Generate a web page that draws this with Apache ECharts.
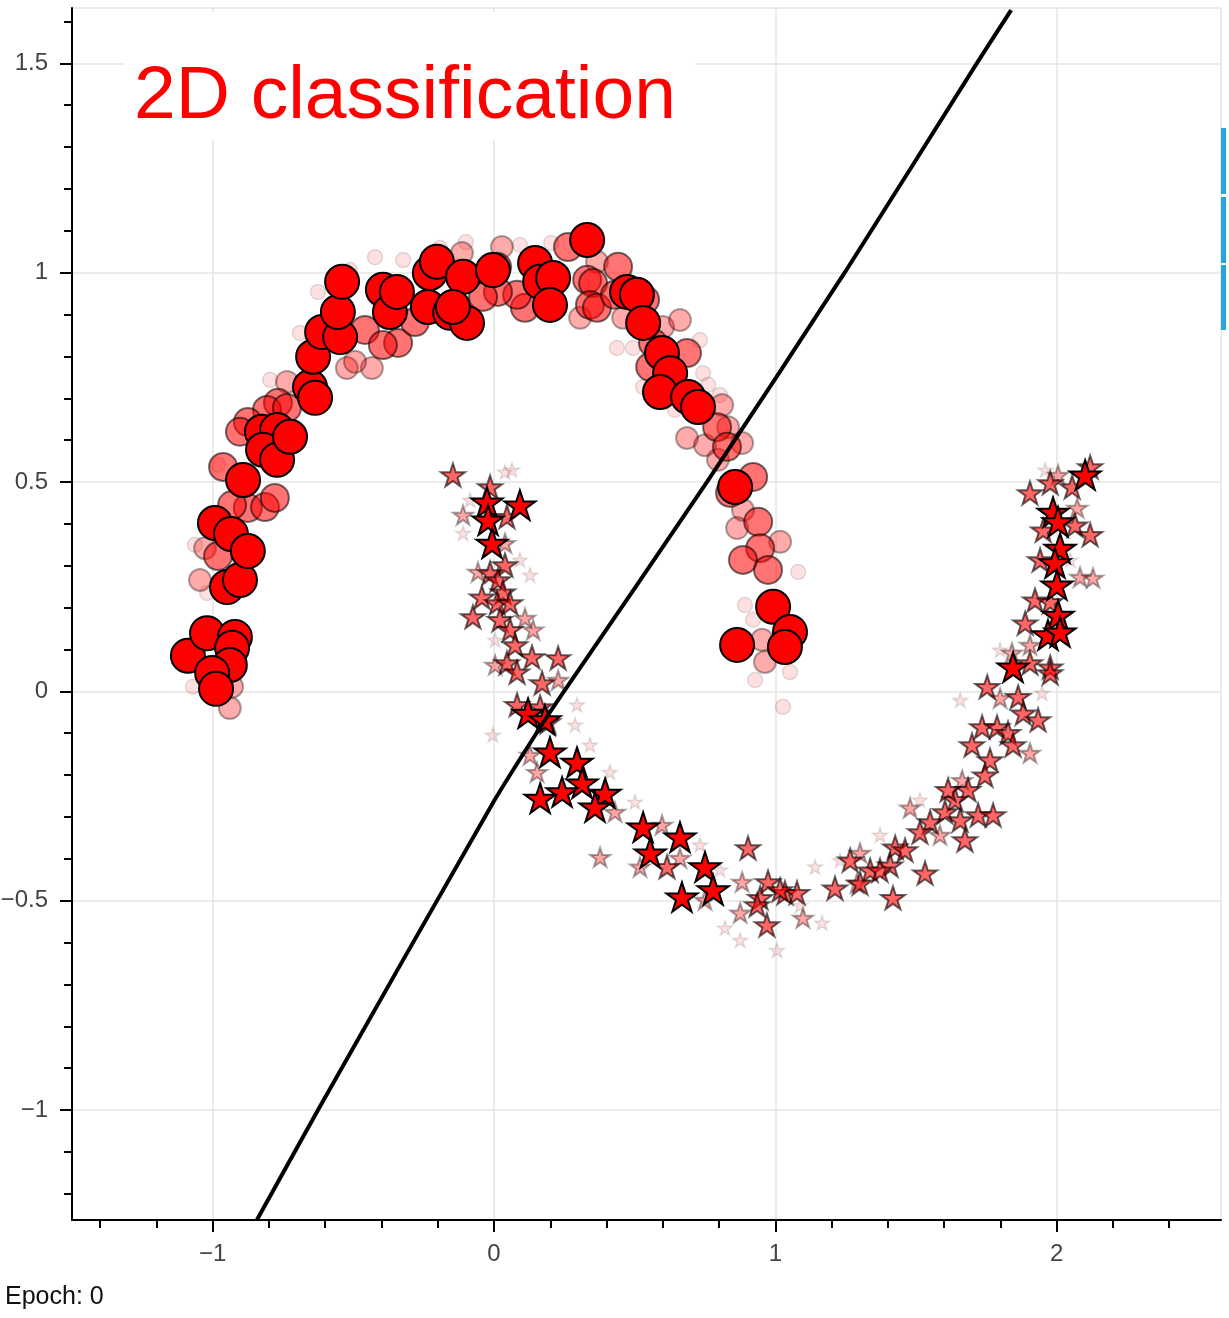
<!DOCTYPE html>
<html>
<head>
<meta charset="utf-8">
<script src="https://cdn.jsdelivr.net/npm/echarts@6/dist/echarts.min.js"></script>
<style>
  html, body { margin: 0; padding: 0; background: #fff; }
  #chart { width: 1229px; height: 1318px; }
</style>
</head>
<body>
<div id="chart"></div>
<script>
// ---------------- DATA ----------------
const titleText = '2D classification';
const epochText = 'Epoch: 0';

const xTicks = [-1, 0, 1, 2];
const yTicks = [-1, -0.5, 0, 0.5, 1, 1.5];
const xMinorTicks = [-1.4, -1.2, -0.8, -0.6, -0.4, -0.2, 0.2, 0.4, 0.6, 0.8, 1.2, 1.4, 1.6, 1.8, 2.2, 2.4];
const yMinorTicks = [-1.2, -1.1, -0.9, -0.8, -0.7, -0.6, -0.4, -0.3, -0.2, -0.1, 0.1, 0.2, 0.3, 0.4, 0.6, 0.7, 0.8, 0.9, 1.1, 1.2, 1.3, 1.4, 1.6];
const xRange = [-1.5, 2.584];
const yRange = [-1.2625, 1.632];

// class 0 (circles), grouped by confidence (opacity)
const circlesStrong = [
  [-1.088,0.085],[-1.020,0.139],[-0.921,0.130],[-0.931,0.104],[-0.939,0.063],[-1.002,0.044],[-0.988,0.006],
  [-0.949,0.249],[-0.903,0.266],[-0.992,0.402],[-0.935,0.376],[-0.875,0.335],[-0.892,0.505],[-0.825,0.620],
  [-0.771,0.624],[-0.821,0.577],[-0.771,0.553],[-0.725,0.608],[-0.654,0.727],[-0.636,0.701],[-0.643,0.799],
  [-0.611,0.858],[-0.547,0.846],[-0.555,0.906],[-0.540,0.978],[-0.395,0.959],[-0.370,0.906],[-0.345,0.954],
  [-0.228,0.999],[-0.203,1.026],[-0.235,0.918],[-0.156,0.904],[-0.110,0.990],[-0.096,0.880],[-0.146,0.918],
  [-0.004,1.006],[0.146,1.023],[0.164,0.978],[0.210,0.987],[0.199,0.923],[0.331,1.078],[0.473,0.954],
  [0.508,0.947],[0.530,0.880],[0.597,0.808],[0.626,0.760],[0.590,0.715],[0.690,0.703],[0.725,0.679],
  [0.857,0.488],[0.992,0.202],[1.052,0.142],[0.864,0.111],[1.034,0.106]
];
const circlesMedium = [
  [-0.341,0.832],[-0.459,0.863],[-0.281,0.882],[-0.395,0.827],[-0.768,0.689],[-0.807,0.672],[-0.736,0.677],
  [-0.875,0.643],[-0.903,0.620],[-0.963,0.536],[-0.875,0.438],[-0.814,0.440],[-0.779,0.462],[-0.931,0.445],
  [-0.981,0.323],[0.263,1.061],[0.110,0.916],[0.082,0.947],[0.014,0.954],[0.011,1.014],[-0.039,0.942],
  [0.441,1.014],[0.331,0.983],[0.352,0.975],[0.341,0.923],[0.366,0.916],[0.430,0.947],[0.537,0.935],
  [0.565,0.832],[0.555,0.775],[0.686,0.808],[0.793,0.631],[0.828,0.584],[0.921,0.512],[0.839,0.474],
  [0.939,0.405],[0.946,0.342],[0.885,0.314],[0.974,0.290]
];
const circlesLight = [
  [-0.434,0.772],[-0.523,0.772],[-0.494,0.787],[-0.736,0.739],[0.306,0.892],[0.459,0.892],[0.601,0.870],
  [0.661,0.887],[0.366,1.026],[0.028,1.061],[-0.114,1.047],[0.811,0.684],[0.832,0.631],[0.686,0.605],
  [0.750,0.588],[0.882,0.593],[0.796,0.553],[0.885,0.433],[0.864,0.390],[1.017,0.357],[0.953,0.123],
  [0.963,0.070],[-0.939,-0.040],[-0.931,0.011],[-1.027,0.342],[-1.045,0.266]
];
const circlesFaint = [
  [-0.423,1.037],[-0.323,1.030],[-0.626,0.954],[-0.690,0.856],[0.437,0.820],[0.494,0.820],[0.530,0.727],
  [0.643,0.672],[0.743,0.760],[0.761,0.732],[1.081,0.285],[0.892,0.206],[0.928,0.027],[1.052,0.046],
  [0.921,0.171],[1.027,-0.037],[-1.020,0.235],[-1.070,0.011],[-0.192,1.059],[-0.100,1.073],[0.092,1.066],
  [0.203,1.071],[-0.512,1.006],[-0.796,0.744],[-0.981,0.541],[-1.063,0.350],[0.732,0.839],[0.803,0.708]
];

// class 1 (stars), grouped by confidence (opacity)
const starsStrong = [
  [-0.025,0.452],[0.092,0.445],[-0.021,0.409],[-0.007,0.354],[0.121,-0.052],[0.181,-0.068],[0.199,-0.145],
  [0.295,-0.169],[0.313,-0.219],[0.395,-0.243],[0.242,-0.240],[0.164,-0.255],[0.359,-0.276],[0.530,-0.324],
  [0.661,-0.348],[0.555,-0.386],[0.750,-0.419],[0.779,-0.474],[0.668,-0.491],[2.101,0.517],[1.987,0.428],
  [2.005,0.405],[2.012,0.342],[1.994,0.307],[2.001,0.254],[2.005,0.182],[1.969,0.135],[2.012,0.142],[1.845,0.058]
];
const starsMedium = [
  [-0.146,0.517],[-0.014,0.488],[0.046,0.417],[0.039,0.302],[-0.014,0.283],[0.014,0.266],[0.032,0.237],
  [-0.043,0.225],[-0.075,0.178],[0.011,0.211],[0.057,0.211],[0.021,0.171],[0.057,0.147],[0.075,0.111],
  [0.135,0.082],[0.228,0.080],[0.046,0.068],[0.082,0.046],[0.171,0.020],[0.082,-0.032],[0.164,-0.037],
  [0.192,-0.073],[0.615,-0.419],[0.903,-0.374],[0.974,-0.455],[0.946,-0.493],[0.935,-0.510],[0.970,-0.558],
  [1.034,-0.481],[1.077,-0.481],[1.017,-0.474],[1.212,-0.470],[1.266,-0.403],[1.337,-0.427],[2.119,0.536],
  [1.905,0.474],[1.977,0.498],[2.055,0.488],[1.952,0.385],[2.065,0.397],[2.119,0.374],[1.941,0.314],
  [1.923,0.218],[1.977,0.214],[1.888,0.163],[1.905,0.068],[1.977,0.058],[1.977,0.044],[1.753,0.011],
  [1.863,-0.013],[1.881,-0.052],[1.934,-0.068],[1.735,-0.085],[1.788,-0.085],[1.827,-0.099],[1.699,-0.128],
  [1.845,-0.128],[1.763,-0.164],[1.745,-0.200],[1.685,-0.235],[1.639,-0.259],[1.614,-0.235],[1.603,-0.288],
  [1.657,-0.307],[1.721,-0.295],[1.774,-0.295],[1.674,-0.355],[1.550,-0.312],[1.514,-0.336],[1.426,-0.372],
  [1.461,-0.379],[1.408,-0.415],[1.372,-0.427],[1.418,-0.493],[1.532,-0.434],[1.301,-0.458]
];
const starsLight = [
  [-0.110,0.421],[0.039,0.354],[-0.057,0.285],[0.110,0.175],[0.139,0.147],[0.004,0.063],[0.228,0.027],
  [0.128,-0.152],[0.153,-0.193],[0.430,-0.288],[0.597,-0.319],[0.377,-0.396],[0.519,-0.419],[0.661,-0.398],
  [0.882,-0.455],[0.875,-0.529],[1.098,-0.541],[1.301,-0.386],[1.290,-0.458],[0.750,-0.498],[2.005,0.517],
  [2.073,0.438],[2.083,0.273],[2.129,0.271],[1.905,0.111],[1.841,0.092],[1.799,-0.016],[1.905,-0.147],
  [1.479,-0.278],[1.664,-0.212],[1.585,-0.343]
];
const starsFaint = [
  [0.039,0.524],[-0.110,0.378],[0.295,-0.032],[-0.004,-0.104],[0.501,-0.264],[0.821,-0.565],[1.006,-0.618],
  [1.166,-0.553],[1.141,-0.419],[0.412,-0.193],[1.948,-0.004],[0.064,0.529],[-0.085,0.457],[0.092,0.314],
  [0.128,0.278],[0.004,0.123],[0.288,-0.080],[0.341,-0.128],[0.732,-0.366],[0.803,-0.426],[1.230,-0.403],
  [1.372,-0.343],[1.514,-0.259],[1.799,0.099],[2.048,0.314],[1.959,0.529],[1.657,-0.021],[0.875,-0.594],[1.088,-0.511]
];

// decision boundary (contour)
const boundary = [
  [-0.8425,-1.262],[-0.6257,-1.0],[0.0,-0.2618],[0.1813,-0.0678],[0.2524,0.0033],
  [0.7572,0.5001],[1.248,1.0016],[1.717,1.501],[1.838,1.627]
];

// ---------------- CHART ----------------
const FONT = '"Liberation Sans", Arial, Helvetica, sans-serif';
const STAR = 'path://M50 0 L61.23 34.55 L97.55 34.55 L68.17 55.9 L79.39 90.45 L50 69.1 L20.61 90.45 L31.83 55.9 L2.45 34.55 L38.77 34.55 Z';
const fmt = v => String(v).replace('-', '\u2212');

function pts(name, data, symbol, size, opacity, bw) {
  return {
    name, type: 'scatter', data, symbol, symbolSize: size, symbolKeepAspect: true,
    xAxisIndex: 0, yAxisIndex: 0, silent: true, z: 3,
    itemStyle: { color: '#ff0000', borderColor: '#000', borderWidth: bw, opacity: opacity }
  };
}

const chart = echarts.init(document.getElementById('chart'), null, { renderer: 'canvas' });
chart.setOption({
  animation: false,
  backgroundColor: '#fff',
  textStyle: { fontFamily: FONT },
  grid: {
    left: 72, top: 8, right: 8, bottom: 98,
    show: true, borderColor: '#e5e5e5', borderWidth: 1.5, backgroundColor: '#fff',
    outerBoundsMode: 'none', containLabel: false
  },
  xAxis: [
    {
      type: 'value', min: xRange[0], max: xRange[1], position: 'bottom',
      axisLine: { show: true, onZero: false, lineStyle: { color: '#000', width: 2 } },
      axisTick: { show: true, customValues: xTicks, length: 12, lineStyle: { color: '#000', width: 2 } },
      axisLabel: { show: true, customValues: xTicks, formatter: fmt, margin: 22, fontSize: 24, color: '#444', fontFamily: FONT },
      splitLine: { show: true, lineStyle: { color: '#e5e5e5', width: 1.5 } },
      minorTick: { show: false }, minorSplitLine: { show: false }
    },
    {
      type: 'value', min: xRange[0], max: xRange[1], position: 'bottom', offset: 0,
      axisLine: { show: false, onZero: false },
      axisTick: { show: true, customValues: xMinorTicks, length: 8, lineStyle: { color: '#000', width: 2 } },
      axisLabel: { show: false },
      splitLine: { show: false }
    }
  ],
  yAxis: [
    {
      type: 'value', min: yRange[0], max: yRange[1], position: 'left',
      axisLine: { show: true, onZero: false, lineStyle: { color: '#000', width: 2 } },
      axisTick: { show: true, customValues: yTicks, length: 12, lineStyle: { color: '#000', width: 2 } },
      axisLabel: { show: true, customValues: yTicks, formatter: fmt, margin: 24, fontSize: 24, color: '#444', fontFamily: FONT },
      splitLine: { show: true, lineStyle: { color: '#e5e5e5', width: 1.5 } }
    },
    {
      type: 'value', min: yRange[0], max: yRange[1], position: 'left', offset: 0,
      axisLine: { show: false, onZero: false },
      axisTick: { show: true, customValues: yMinorTicks, length: 8, lineStyle: { color: '#000', width: 2 } },
      axisLabel: { show: false },
      splitLine: { show: false }
    }
  ],
  series: [
    pts('circles faint', circlesFaint, 'circle', 15, 0.12, 1.5),
    pts('stars faint', starsFaint, STAR, 15, 0.12, 1.5),
    pts('circles light', circlesLight, 'circle', 22, 0.33, 2),
    pts('stars light', starsLight, STAR, 20, 0.35, 2),
    pts('circles medium', circlesMedium, 'circle', 28, 0.55, 2),
    pts('stars medium', starsMedium, STAR, 24, 0.6, 2),
    pts('circles strong', circlesStrong, 'circle', 34, 1, 2),
    pts('stars strong', starsStrong, STAR, 31, 1, 2),
    {
      name: 'boundary', type: 'line', data: boundary, symbol: 'none', silent: true, z: 6, clip: true,
      smooth: 0.2, xAxisIndex: 0, yAxisIndex: 0,
      lineStyle: { color: '#000', width: 4 }
    }
  ],
  graphic: [
    { type: 'rect', z: 20, silent: true, shape: { x: 125, y: 12, width: 570, height: 128 }, style: { fill: '#fff' } },
    { type: 'text', z: 21, silent: true, x: 134, y: 97,
      style: { text: titleText, font: '75px ' + FONT, fill: '#ff0000', verticalAlign: 'middle', align: 'left' } },
    { type: 'text', z: 21, silent: true, x: 5, y: 1297,
      style: { text: epochText, font: '25px ' + FONT, fill: '#111', verticalAlign: 'middle', align: 'left' } },
    { type: 'rect', z: 21, silent: true, shape: { x: 1221, y: 128, width: 5, height: 66 }, style: { fill: '#27a6dc' } },
    { type: 'rect', z: 21, silent: true, shape: { x: 1221, y: 197, width: 5, height: 66 }, style: { fill: '#27a6dc' } },
    { type: 'rect', z: 21, silent: true, shape: { x: 1221, y: 265, width: 5, height: 65 }, style: { fill: '#27a6dc' } }
  ]
});
</script>
</body>
</html>
